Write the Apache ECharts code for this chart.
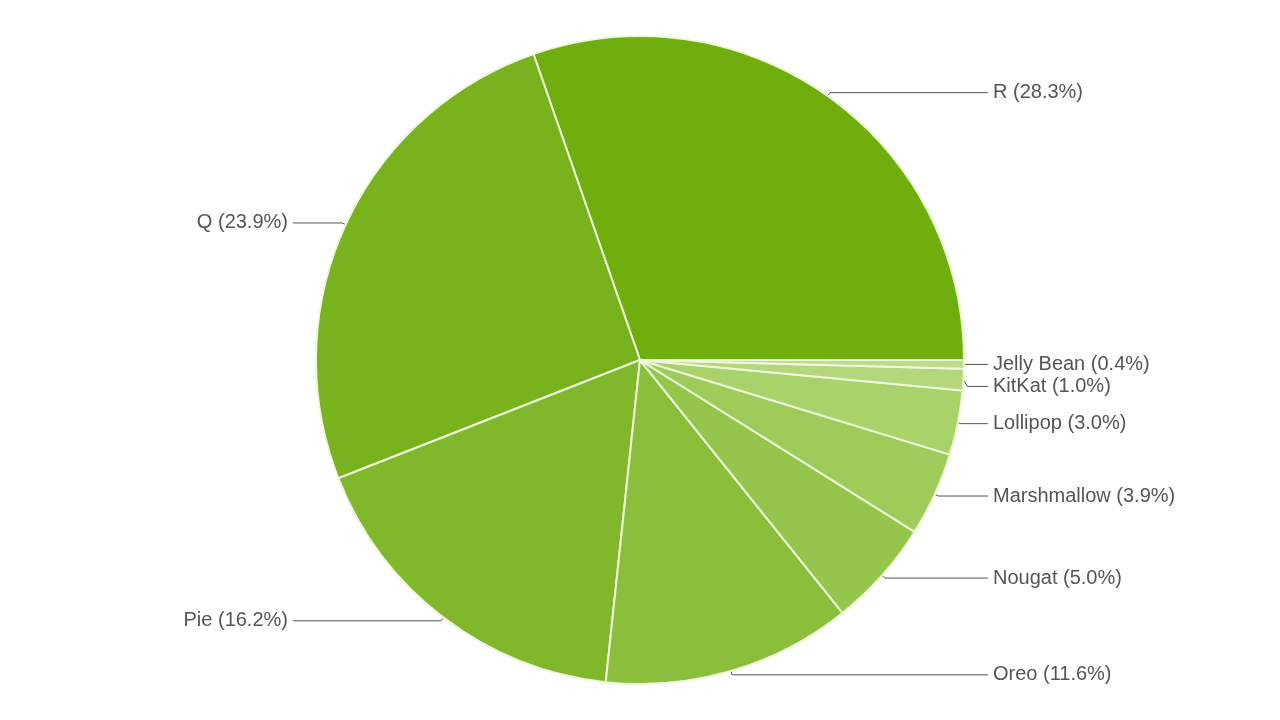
<!DOCTYPE html>
<html>
<head>
<meta charset="utf-8">
<script src="https://cdn.jsdelivr.net/npm/echarts@6/dist/echarts.min.js"></script>
<style>
html,body{margin:0;padding:0;background:#fff;}
#chart{width:1280px;height:720px;}
</style>
</head>
<body>
<div id="chart"></div>
<script>
const categories = ['R', 'Q', 'Pie', 'Oreo', 'Nougat', 'Marshmallow', 'Lollipop', 'KitKat', 'Jelly Bean'];
const shares = [28.3, 23.9, 16.2, 11.6, 5.0, 3.9, 3.0, 1.0, 0.4];
const colors = ['#70ae0e', '#78b21d', '#81b82b', '#8bbe3a', '#96c54b', '#9fcb5b', '#aad26b', '#b3d77a', '#bddc89'];

const chart = echarts.init(document.getElementById('chart'));
chart.setOption({
  animation: false,
  backgroundColor: '#ffffff',
  series: [{
    type: 'pie',
    center: [640, 360],
    radius: [0, 324],
    startAngle: 0,
    clockwise: false,
    avoidLabelOverlap: true,
    data: categories.map((c, i) => ({
      name: c,
      value: shares[i],
      itemStyle: { color: colors[i] },
      labelLine: i === 1 ? { length2: 49 } : undefined
    })),
    itemStyle: { borderColor: '#eef8dc', borderWidth: 2 },
    label: {
      show: true,
      formatter: p => p.name + ' (' + shares[p.dataIndex].toFixed(1) + '%)',
      fontFamily: 'Liberation Sans, Arial, sans-serif',
      fontSize: 20,
      color: '#555555',
      alignTo: 'labelLine',
      distanceToLabelLine: 5
    },
    labelLine: {
      show: true,
      length: 4,
      length2: 20,
      smooth: false,
      lineStyle: { color: '#555555', width: 1 }
    },
    emphasis: { disabled: true }
  }]
});
</script>
</body>
</html>
